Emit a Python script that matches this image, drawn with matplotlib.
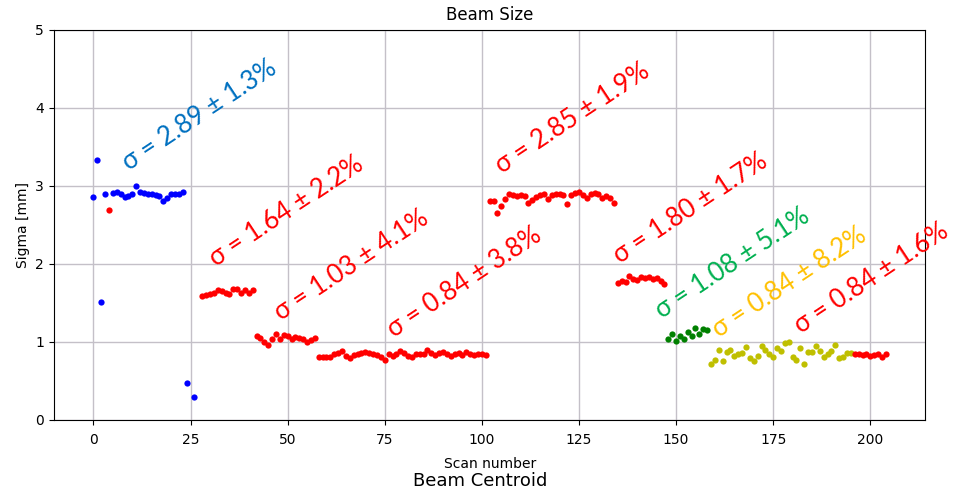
import numpy as np
import matplotlib.pyplot as plt

nan = np.nan

# sigma per scan, index = scan number (NaN = no point)
sigma = [
    # 0-26 (blue, except scan 4)
    2.86, 3.33, 1.51, 2.89, 2.69, 2.91, 2.92, 2.89, 2.86, 2.87,
    2.89, 3.00, 2.92, 2.91, 2.89, 2.89, 2.88, 2.87, 2.81, 2.84,
    2.89, 2.90, 2.90, 2.92, 0.47, nan, 0.29,
    # 27-41
    nan, 1.59, 1.60, 1.61, 1.62, 1.67, 1.65, 1.63, 1.61, 1.68,
    1.68, 1.62, 1.67, 1.62, 1.66,
    # 42-57
    1.07, 1.05, 1.00, 0.96, 1.03, 1.10, 1.04, 1.09, 1.08, 1.04,
    1.06, 1.05, 1.03, 1.00, 1.02, 1.05,
    # 58-101
    0.81, 0.80, 0.81, 0.80, 0.84, 0.86, 0.88, 0.82, 0.79, 0.83,
    0.85, 0.86, 0.87, 0.86, 0.84, 0.83, 0.80, 0.77, 0.84, 0.82,
    0.85, 0.88, 0.86, 0.82, 0.80, 0.85, 0.84, 0.84, 0.90, 0.86,
    0.83, 0.86, 0.87, 0.85, 0.82, 0.84, 0.86, 0.83, 0.87, 0.84,
    0.83, 0.85, 0.84, 0.83,
    # 102-134
    2.81, 2.80, 2.65, 2.74, 2.83, 2.90, 2.88, 2.87, 2.88, 2.87,
    2.78, 2.82, 2.86, 2.88, 2.90, 2.83, 2.88, 2.90, 2.89, 2.88,
    2.77, 2.88, 2.91, 2.92, 2.88, 2.84, 2.90, 2.91, 2.90, 2.85,
    2.87, 2.84, 2.78,
    # 135-147
    1.76, 1.78, 1.77, 1.85, 1.80, 1.79, 1.83, 1.82, 1.83, 1.80,
    1.82, 1.78, 1.74,
    # 148-158 (green)
    1.03, 1.10, 1.01, 1.08, 1.04, 1.13, 1.07, 1.18, 1.10, 1.17,
    1.15,
    # 159-195 (yellow)
    0.72, 0.77, 0.90, 0.76, 0.87, 0.89, 0.82, 0.84, 0.86, 0.93,
    0.79, 0.75, 0.82, 0.95, 0.90, 0.85, 0.80, 0.92, 0.88, 0.98,
    1.00, 0.80, 0.77, 0.92, 0.72, 0.87, 0.87, 0.95, 0.88, 0.80,
    0.85, 0.88, 0.96, 0.79, 0.80, 0.86, 0.86,
    # 196-204
    0.85, 0.84, 0.83, 0.84, 0.82, 0.83, 0.85, 0.81, 0.84,
]

# (first scan, last scan, colour)
segments = [
    (0, 3, "b"), (4, 4, "r"), (5, 26, "b"), (27, 147, "r"),
    (148, 158, "g"), (159, 195, "y"), (196, 204, "r"),
]

# fit annotations: text, x, y, colour
labels = ["σ = 2.89 ± 1.3%", "σ = 1.64 ± 2.2%", "σ = 1.03 ± 4.1%",
          "σ = 0.84 ± 3.8%", "σ = 2.85 ± 1.9%", "σ = 1.80 ± 1.7%",
          "σ = 1.08 ± 5.1%", "σ = 0.84 ± 8.2%", "σ = 0.84 ± 1.6%"]
label_x = [9.9, 32.3, 49.0, 78.1, 105.9, 136.3, 147.1, 161.8, 182.9]
label_y = [3.14, 1.91, 1.22, 0.99, 3.10, 1.95, 1.24, 0.99, 1.05]
label_colors = ["#0070C0", "#FF0000", "#FF0000", "#FF0000", "#FF0000",
                "#FF0000", "#00B050", "#FFC000", "#FF0000"]

scans = np.arange(len(sigma))
sigma = np.array(sigma)

fig = plt.figure(figsize=(9.61, 4.91), dpi=100)
ax = fig.add_axes([0.056, 0.145, 0.907, 0.794])

for first, last, color in segments:
    sl = slice(first, last + 1)
    ax.plot(scans[sl], sigma[sl], "o", color=color, markersize=4.5,
            markeredgewidth=0)

for text, x, y, c in zip(labels, label_x, label_y, label_colors):
    ax.text(x, y, text, color=c, fontsize=18.5, family="Lato",
            rotation=33.5, rotation_mode="anchor", ha="left", va="bottom",
            clip_on=False)

ax.set_xlim(-10.2, 214.2)
ax.set_ylim(0, 5)
ax.set_xticks(np.arange(0, 201, 25))
ax.set_yticks(np.arange(0, 6, 1))
ax.grid(True, color="#c4c0c8", linewidth=1)
ax.set_axisbelow(True)
ax.tick_params(labelsize=10)
ax.tick_params(axis="x", pad=6)
ax.set_title("Beam Size", fontsize=12, pad=7)
ax.set_xlabel("Scan number", fontsize=10, labelpad=7)
ax.set_ylabel("Sigma [mm]", fontsize=10)
fig.text(0.5, 0.002, "Beam Centroid", ha="center", va="bottom", fontsize=13)

fig.savefig("out.png", dpi=100)
